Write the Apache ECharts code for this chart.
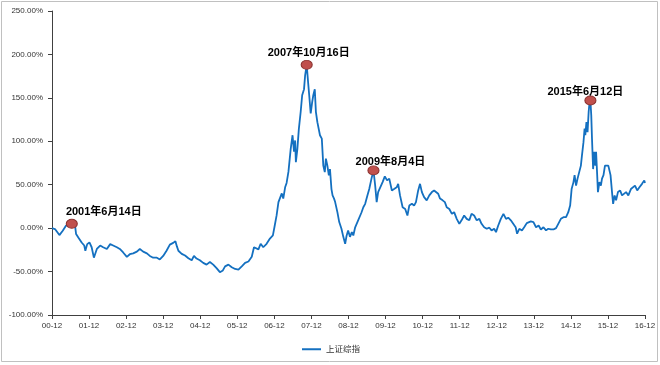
<!DOCTYPE html>
<html><head><meta charset="utf-8">
<script src="https://cdn.jsdelivr.net/npm/echarts@6/dist/echarts.min.js"></script>
<style>html,body{margin:0;padding:0;background:#fff}#c{width:660px;height:365px}</style>
</head><body><div id="c"></div>
<script>
// x: years since 2000-12 ; y: cumulative return (%)
const tA = [0.00,0.08,0.20,0.29,0.38,0.536,0.62,0.65,0.71,0.80,0.87,0.90,0.95,1.01,1.07,1.13,1.21,1.30,1.38,1.48,1.57,1.65,1.75,1.83,1.92,2.02,2.10,2.19,2.29,2.37,2.46,2.56,2.64,2.73,2.83,2.91,3.00,3.09];
const vA = [0,-1,-8,-3,3,5,3.6,-6.8,-10.7,-16.5,-20,-26,-18.4,-16.5,-22,-34,-24,-20,-22,-24,-18.4,-20,-22,-24,-28,-33,-30,-29,-27,-24,-27,-29,-32,-34,-34,-36,-32,-26];
const tB = [3.18,3.27,3.33,3.37,3.41,3.50,3.59,3.68,3.77,3.83,3.90,3.99,4.08,4.17,4.26,4.35,4.44,4.53,4.61,4.67,4.76,4.85,4.94,5.03,5.12,5.21,5.30,5.39,5.45,5.50,5.57,5.63,5.70,5.79,5.88,5.96,6.01,6.06,6.11,6.15,6.20,6.24,6.29,6.33,6.38];
const vB = [-19,-17,-15,-21,-26,-29.6,-31.5,-34.6,-37,-32,-35,-37,-40,-42,-39,-42,-46,-50.7,-48.7,-44,-42,-45,-47,-47.7,-44,-40,-38.4,-33,-22,-20.7,-24.5,-18,-22,-18,-12,-8.4,3,14.6,30,28,40,34,47,52,65];
const tC = [6.44,6.49,6.53,6.56,6.58,6.62,6.66,6.71,6.75,6.80,6.83,6.872,6.91,6.94,6.98,7.02,7.05,7.09,7.12,7.16,7.20,7.23,7.28,7.32,7.36,7.39,7.43,7.47,7.50,7.54,7.57,7.61,7.64,7.70,7.75,7.81,7.86,7.91,7.95,7.99,8.04,8.09,8.13,8.18,8.24,8.29,8.35,8.40,8.45,8.51,8.56,8.62,8.674,8.72,8.76,8.80,8.85,8.92,8.98,9.04,9.10];
const vC = [91,107,88,101,76,91,114,134,153,160,176,188,168,153,132,145,153,160,134,122,124,107,103,72,64.5,80,72,60.7,68,45,37.7,34,30,18.4,7,-0.7,-10,-18,-8.4,-2.6,-10,-4.6,-8.4,1,7,9,18,24,28,37.7,45,57,66.5,49,30,41.5,40,53,59.6,55,57];
const tD = [9.17,9.23,9.30,9.34,9.39,9.46,9.53,9.59,9.64,9.71,9.77,9.82,9.88,9.93,9.98,10.04,10.11,10.18,10.25,10.31,10.36,10.42,10.47,10.54,10.60,10.65,10.72,10.79,10.85,10.92,10.99,11.05,11.12,11.19,11.26,11.32,11.39,11.46,11.53,11.59,11.66,11.73,11.80,11.86,11.93,11.98,12.04,12.11,12.18,12.25,12.31,12.38,12.43,12.51,12.55,12.61,12.68,12.74,12.81];
const vD = [43.4,45,47,51,37.7,24,22,14.6,26,28,26,30,43.4,51,41.5,35.7,32,37.7,41.5,43.4,45,39.6,34,32,30,24,22,16.5,18.4,10.7,5,9,14.6,10.7,9,16.5,14.6,9,10.7,5,1,-0.7,0.5,-2.6,-0.7,-4.6,3,10.7,16.5,10.7,12,9,10.7,1,-6.4,-0.7,-2.6,1,5.8];
const tE = [12.84,12.92,12.99,13.06,13.13,13.19,13.26,13.33,13.39,13.46,13.53,13.60,13.66,13.73,13.80,13.87,13.93,13.98,14.02,14.07,14.10,14.14,14.18,14.23,14.27,14.30,14.34,14.37,14.39,14.42,14.45,14.48,14.50,14.527,14.55,14.57,14.60,14.63,14.66,14.68,14.71,14.73,14.77,14.81,14.84,14.88,14.92,14.97,15.01,15.04,15.07,15.11,15.14,15.18,15.22,15.27,15.33,15.38,15.43,15.49,15.55,15.62,15.67,15.73,15.79,15.85,15.92,15.98,16.00];
const vE = [6,7.7,7,1,3,-1.5,1,-2.6,-0.7,-1.5,-1.5,0,5,10.7,12.6,12.6,18.4,26,45,53,61,49,57,59,72,84,99,114.5,107,122,110.6,134,143,147,130,103,68,88,72,88,61,41.5,53,49,57,61,72,74,72,74,61,41.5,28,37.7,32,41.5,43.4,37.7,35.7,41.5,37.7,45,43.4,49,43.4,47,51,55,52];

const peakDates = ['2001-06-14','2007-10-16','2009-08-04','2015-06-12'];
const peakValues = [5,188,66.5,147];
const peakLabels = ['2001年6月14日','2007年10月16日','2009年8月4日','2015年6月12日'];

const xTickLabels = ['00-12','01-12','02-12','03-12','04-12','05-12','06-12','07-12','08-12','09-12','10-12','11-12','12-12','13-12','14-12','15-12','16-12'];
const seriesName = '上证综指';

const base = Date.UTC(2000,11,1);
function toT(d){const p=d.split('-').map(Number);return (Date.UTC(p[0],p[1]-1,p[2])-base)/(365.25*864e5);}

const allT = [].concat(tA,tB,tC,tD,tE);
const allV = [].concat(vA,vB,vC,vD,vE);
const lineData = allT.map((t,i)=>[t,allV[i]]);

const labelOffsets = [[32,-12],[2,-12],[17,-8],[-5,-8]];
const peakData = peakDates.map((d,i)=>({value:[toT(d),peakValues[i]],name:peakLabels[i],label:{offset:labelOffsets[i]}}));

const fam = "'Liberation Sans','Noto Sans CJK SC',Arial,sans-serif";
const chart = echarts.init(document.getElementById('c'), null, {renderer:'canvas'});
chart.setOption({
  animation:false,
  backgroundColor:'#ffffff',
  grid:{left:52,right:15,top:11,bottom:50,containLabel:false},
  xAxis:{type:'value',min:0,max:16,interval:1,
    axisLine:{show:true,onZero:false,lineStyle:{color:'#404040',width:1}},
    axisTick:{show:true,length:4,lineStyle:{color:'#404040'}},
    axisLabel:{formatter:v=>xTickLabels[v]||'',fontSize:8,color:'#333',margin:7,fontFamily:fam},
    splitLine:{show:false}},
  yAxis:{type:'value',min:-100,max:250,interval:50,
    axisLine:{show:true,onZero:false,lineStyle:{color:'#404040',width:1}},
    axisTick:{show:true,length:4,lineStyle:{color:'#404040'}},
    axisLabel:{formatter:v=>v.toFixed(2)+'%',fontSize:8,color:'#333',margin:9,fontFamily:fam},
    splitLine:{show:false}},
  legend:{data:[seriesName],left:302,top:345,icon:'rect',itemWidth:19,itemHeight:2,itemGap:5,padding:0,
    textStyle:{fontSize:8.5,color:'#333',fontFamily:fam}},
  series:[
    {name:seriesName,type:'line',data:lineData,showSymbol:false,symbol:'none',
     lineStyle:{color:'#1470c0',width:1.8},itemStyle:{color:'#1470c0'},z:2},
    {name:'peaks',type:'scatter',data:peakData,symbol:'circle',symbolSize:[11,9],z:5,
     itemStyle:{color:'#c0504d',borderColor:'#8c3331',borderWidth:1,opacity:1},
     label:{show:true,position:'inside',formatter:p=>p.name,fontSize:11,fontWeight:'bold',color:'#000',fontFamily:fam}}
  ],
  graphic:[{type:'rect',shape:{x:1.5,y:1.5,width:656,height:360},style:{fill:'none',stroke:'#c0c0c0',lineWidth:1},silent:true,z:-1}]
});
</script></body></html>
